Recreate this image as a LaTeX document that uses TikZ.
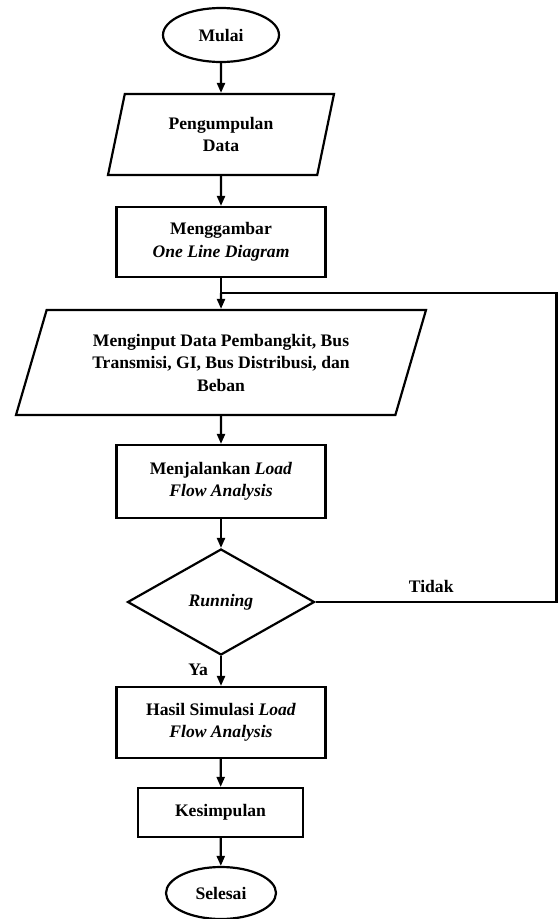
\documentclass[tikz,border=0pt]{standalone}
\usepackage{fontspec}
\setmainfont{Liberation Serif}
\usetikzlibrary{shapes.geometric,arrows.meta}
\begin{document}
\begin{tikzpicture}[x=1pt,y=-1pt,line width=2.2pt,>={Triangle[length=10pt,width=8pt]}]
	\useasboundingbox (0,0) rectangle (558,919);
	\begin{scope}[every node/.style={font=\fontsize{17.6}{22.5}\selectfont\bfseries,align=center,inner sep=0pt}]
		\tikzset{terminal/.style={draw,ellipse},
			io/.style={draw,trapezium,trapezium stretches=true,trapezium stretches body=true},
			process/.style={draw,rectangle},
			decision/.style={draw,diamond}}
		\path (221,35   ) node [terminal,minimum width=116pt,minimum height=54pt] (mulai) {Mulai};
		\path (221,134.5) node [io,minimum width=226pt,minimum height=81pt,trapezium left angle=64.3,trapezium right angle=115.7] (kumpul) {Pengumpulan\\Data};
		\path (221,242  ) node [process,minimum width=209pt,minimum height=70pt] (gambar) {Menggambar\\\textit{One Line Diagram}};
		\path (221,362.5) node [io,minimum width=410pt,minimum height=105pt,trapezium left angle=61.9,trapezium right angle=118.1] (input) {Menginput Data Pembangkit, Bus\\Transmisi, GI, Bus Distribusi, dan\\Beban};
		\path (221,481.5) node [process,minimum width=209pt,minimum height=73pt] (jalan) {Menjalankan \textit{Load}\\\textit{Flow Analysis}};
		\path (221,602  ) node [decision,minimum width=187pt,minimum height=106pt,aspect=1.76] (running) {\textit{Running}};
		\path (221,722.5) node [process,minimum width=209pt,minimum height=71pt] (hasil) {Hasil Simulasi \textit{Load}\\\textit{Flow Analysis}};
		\path (220.5,812.5) node [process,minimum width=165pt,minimum height=49pt] (simpul) {Kesimpulan};
		\path (221,893  ) node [terminal,minimum width=110pt,minimum height=52pt] (selesai) {Selesai};
		\coordinate (gabung) at (221,293);
		\coordinate (balik1) at (556.5,602);
		\coordinate (balik2) at (556.5,293);
		\draw [->] (mulai)   -- (kumpul);
		\draw [->] (kumpul)  -- (gambar);
		\draw      (gambar)  -- (gabung);
		\draw [->] (gabung)  -- (input);
		\draw [->] (input)   -- (jalan);
		\draw [->] (jalan)   -- (running);
		\draw [->] (running) -- (hasil) node [pos=0.45,left=12pt] {Ya};
		\draw [->] (hasil)   -- (simpul);
		\draw [->] (simpul)  -- (selesai);
		\draw (running.east) -- (balik1) node [pos=0.48,above=8pt] {Tidak} -- (balik2) -- (gabung);
	\end{scope}
\end{tikzpicture}
\end{document}
